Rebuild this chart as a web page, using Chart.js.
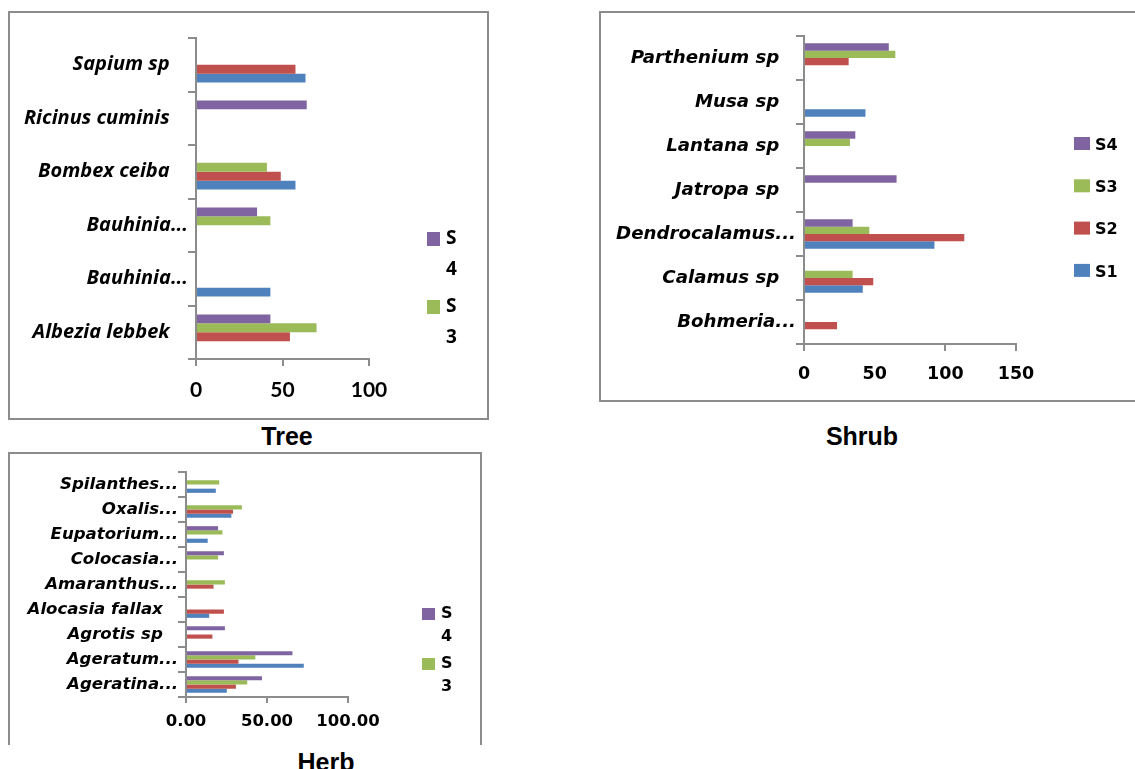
<!DOCTYPE html>
<html>
<head>
<meta charset="utf-8">
<script src="https://cdn.jsdelivr.net/npm/chart.js@4.4.1/dist/chart.umd.min.js"></script>
<style>
  body { margin: 0; background: #fff; width: 1135px; height: 769px; overflow: hidden; position: relative; }
  .box { position: absolute; border: 2px solid #8c8c8c; box-sizing: border-box; }
  .box canvas { position: absolute; left: 0; top: 0; }
  .caption { position: absolute; font-family: "Liberation Sans", Arial, sans-serif; font-weight: bold;
             font-size: 25px; line-height: 25px; color: #000; transform: translateX(-50%); white-space: nowrap; }
</style>
</head>
<body>
<div class="box" style="left:8px;top:11px;width:481px;height:409px"><canvas id="tree" width="477" height="405"></canvas></div>
<div class="caption" style="left:287px;top:424px">Tree</div>

<div class="box" style="left:599px;top:11px;width:545px;height:391px"><canvas id="shrub" width="540" height="387"></canvas></div>
<div class="caption" style="left:862px;top:424px">Shrub</div>

<div class="box" style="left:8px;top:452px;width:474px;height:293px;border-bottom:none"><canvas id="herb" width="470" height="291"></canvas></div>
<div class="caption" style="left:326px;top:750px">Herb</div>

<script>
// series names and colours (Excel 2007 palette)
let series_names = ["S4", "S3", "S2", "S1"];
let series_colors = ["#8064A2", "#9BBB59", "#C0504D", "#4F81BD"];

// Tree (top to bottom)
let tree_species = ["Sapium sp", "Ricinus cuminis", "Bombex ceiba", "Bauhinia...", "Bauhinia...", "Albezia lebbek"];
let tree_s1 = [63.3, null, 57.5, null, 43, null];
let tree_s2 = [57.5, null, 49, null, null, 54.3];
let tree_s3 = [null, null, 41, 43, null, 69.7];
let tree_s4 = [null, 64, null, 35.3, null, 43];
let tree_ticks = [0, 50, 100];

// Shrub (top to bottom)
let shrub_species = ["Parthenium sp", "Musa sp", "Lantana sp", "Jatropa sp", "Dendrocalamus...", "Calamus sp", "Bohmeria..."];
let shrub_s1 = [null, 43.5, null, null, 92.3, 41.6, null];
let shrub_s2 = [31.6, null, null, null, 113.4, 49, 23.4];
let shrub_s3 = [64.6, null, 32.5, null, 46.2, 34.4, null];
let shrub_s4 = [60, null, 36.3, 65.5, 34.4, null, null];
let shrub_ticks = [0, 50, 100, 150];

// Herb (top to bottom)
let herb_species = ["Spilanthes...", "Oxalis...", "Eupatorium...", "Colocasia...", "Amaranthus...", "Alocasia fallax", "Agrotis sp", "Ageratum...", "Ageratina..."];
let herb_s1 = [18.4, 28, 13.4, null, null, 14.3, null, 72.7, 25.2];
let herb_s2 = [null, 29, null, null, 17, 23.4, 16.3, 32.4, 30.8];
let herb_s3 = [20.5, 34.5, 22.5, 19.8, 24, null, null, 42.8, 37.8];
let herb_s4 = [null, null, 19.8, 23.4, null, null, 24, 65.7, 46.9];
let herb_ticks = [0, 50, 100];

let axis_gray = "#8c8c8c";

// legend drawn to the right of the plot, like the Excel one
let sideLegend = {
  id: "sideLegend",
  afterDraw(chart, args, opts) {
    let ctx = chart.ctx;
    ctx.save();
    ctx.font = opts.font;
    ctx.textBaseline = "middle";
    ctx.textAlign = "left";
    chart.data.datasets.slice(0, opts.count).forEach((ds, i) => {
      let top = opts.y + i * opts.step;
      ctx.fillStyle = ds.backgroundColor;
      ctx.fillRect(opts.x, top, opts.boxW, opts.boxH);
      ctx.fillStyle = "#000";
      let ty = top + opts.boxH / 2 + opts.textDy;
      if (opts.wrap) {
        ctx.fillText(ds.label.slice(0, 1), opts.textX, ty);
        ctx.fillText(ds.label.slice(1), opts.textX, ty + opts.lineGap);
      } else {
        ctx.fillText(ds.label, opts.textX, ty);
      }
    });
    ctx.restore();
  }
};

function makeChart(id, species, values, ticks, o) {
  let datasets = values.map((v, i) => ({
    label: series_names[i],
    data: v,
    backgroundColor: series_colors[i],
    borderWidth: 0,
    categoryPercentage: 0.667,
    barPercentage: 1,
  }));
  return new Chart(document.getElementById(id), {
    type: "bar",
    data: { labels: species, datasets: datasets },
    plugins: [sideLegend],
    options: {
      indexAxis: "y",
      responsive: false,
      animation: false,
      devicePixelRatio: 1,
      layout: { padding: { left: 0, top: o.padTop, right: o.padRight, bottom: 0 } },
      plugins: {
        legend: { display: false },
        tooltip: { enabled: false },
        sideLegend: o.legend,
      },
      scales: {
        y: {
          type: "category",
          offset: true,
          afterFit: (s) => { s.width = o.yWidth; },
          grid: { offset: true, drawOnChartArea: false, tickLength: 8, color: axis_gray, lineWidth: 2 },
          border: { color: axis_gray, width: 2 },
          ticks: {
            padding: 0,
            color: "#000",
            font: o.catFont,
            // Excel leaves a wider gap after names that were not cut short
            callback: function (val) {
              let lab = this.getLabelForValue(val);
              return lab.endsWith("...") ? lab : lab + "\u2002\u2005\u2006";
            },
          },
        },
        x: {
          min: ticks[0],
          max: ticks[ticks.length - 1],
          afterFit: (s) => { s.height = o.xHeight; },
          afterBuildTicks: (s) => { s.ticks = ticks.map((v) => ({ value: v })); },
          grid: {
            drawOnChartArea: false,
            tickLength: o.xTickLen,
            lineWidth: 2,
            color: (c) => (o.hideTick !== undefined && c.tick && c.tick.value === o.hideTick ? "rgba(0,0,0,0)" : axis_gray),
          },
          border: { color: axis_gray, width: 2 },
          ticks: {
            padding: o.xPad,
            color: "#000",
            font: o.tickFont,
            maxRotation: 0,
            callback: (v) => o.fmt(v),
          },
        },
      },
    },
  });
}

makeChart("tree", tree_species, [tree_s4, tree_s3, tree_s2, tree_s1], tree_ticks, {
  padTop: 25, padRight: 118, yWidth: 186, xHeight: 59, xTickLen: 7, xPad: 12,
  catFont: { family: "Open Sans", size: 20, weight: "bold", style: "italic" },
  tickFont: { family: "Lato", size: 21, weight: "bold" },
  fmt: (v) => String(v),
  legend: { count: 2, x: 417, y: 219, boxW: 13, boxH: 14, textX: 436, textDy: 0, step: 68, wrap: true, lineGap: 31,
            font: "bold 19px 'Open Sans'" },
});

makeChart("shrub", shrub_species, [shrub_s4, shrub_s3, shrub_s2, shrub_s1], shrub_ticks, {
  padTop: 23, padRight: 125, yWidth: 203, xHeight: 56, xTickLen: 7, xPad: 13, hideTick: 50,
  catFont: { family: "DejaVu Sans", size: 18.2, weight: "bold", style: "italic" },
  tickFont: { family: "DejaVu Sans", size: 17.5, weight: "bold" },
  fmt: (v) => String(v),
  legend: { count: 4, x: 473, y: 124, boxW: 16, boxH: 13, textX: 494, textDy: 2, step: 42.3, wrap: false, lineGap: 0,
            font: "bold 16px 'DejaVu Sans'" },
});

makeChart("herb", herb_species, [herb_s4, herb_s3, herb_s2, herb_s1], herb_ticks, {
  padTop: 18, padRight: 132, yWidth: 176, xHeight: 48, xTickLen: 6, xPad: 9,
  catFont: { family: "DejaVu Sans", size: 16.6, weight: "bold", style: "italic" },
  tickFont: { family: "DejaVu Sans", size: 16.5, weight: "bold" },
  fmt: (v) => v.toFixed(2),
  legend: { count: 2, x: 412, y: 154, boxW: 13, boxH: 12, textX: 431, textDy: 0, step: 50, wrap: true, lineGap: 23,
            font: "bold 16px 'DejaVu Sans'" },
});
</script>
</body>
</html>
